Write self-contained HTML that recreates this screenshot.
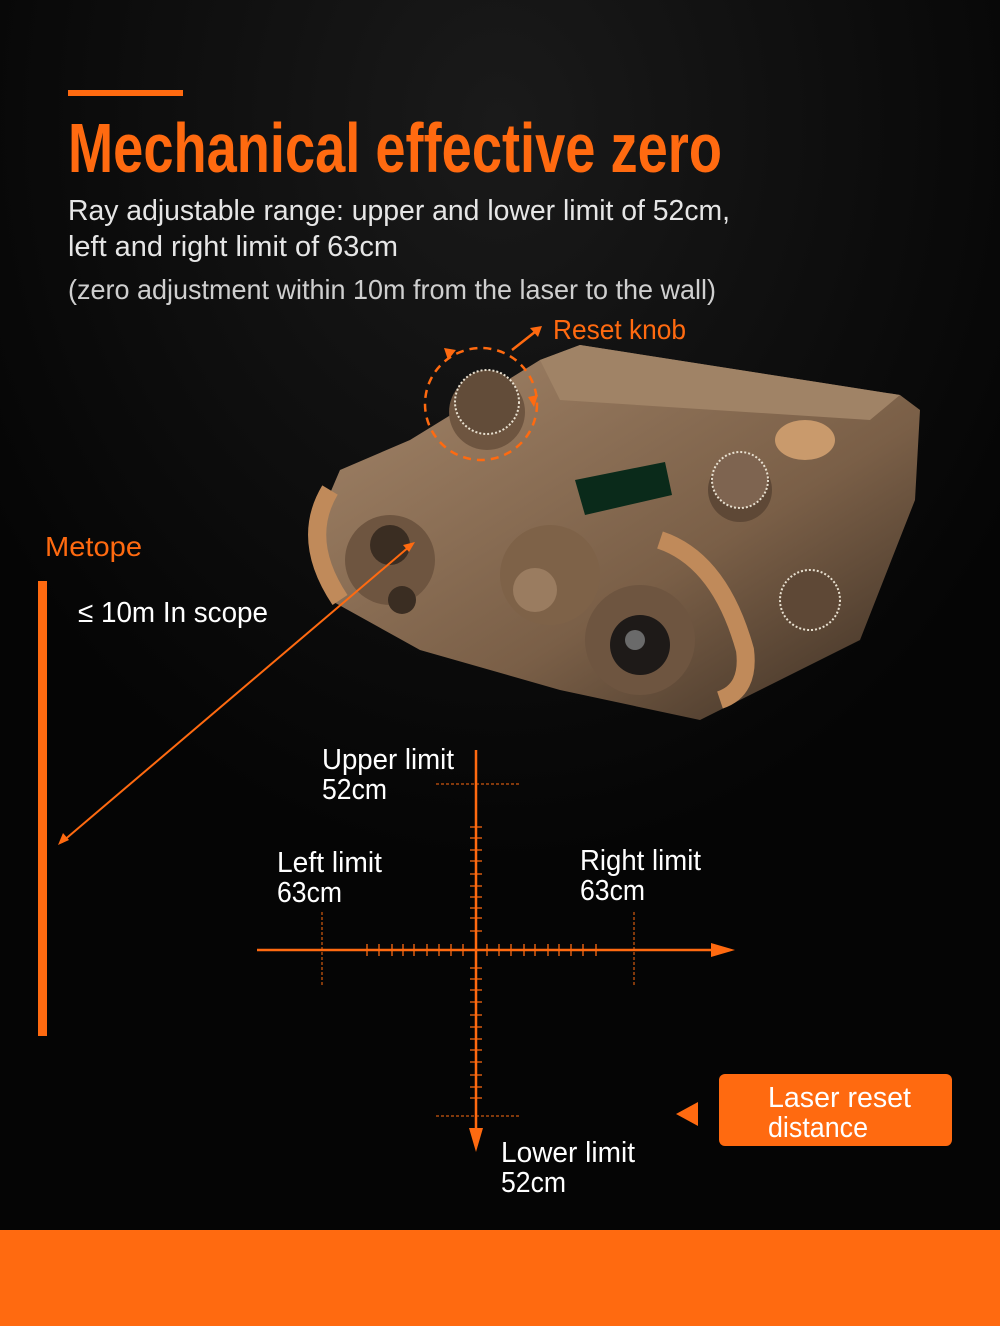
<!DOCTYPE html>
<html><head><meta charset="utf-8"><style>
html,body{margin:0;padding:0;background:#050505;}
body{width:1000px;height:1326px;overflow:hidden;position:relative;}
svg{position:absolute;left:0;top:0;}
</style></head><body>
<svg width="1000" height="1326" viewBox="0 0 1000 1326" font-family="'Liberation Sans Narrow','Liberation Sans',sans-serif">
<defs>
<radialGradient id="bg" cx="0.5" cy="0.1" r="0.6"><stop offset="0" stop-color="#1a1a1a"/><stop offset="1" stop-color="#050505"/></radialGradient>
<linearGradient id="tan" x1="0" y1="0" x2="1" y2="1"><stop offset="0" stop-color="#a4866a"/><stop offset="0.6" stop-color="#7a5f47"/><stop offset="1" stop-color="#3a2d22"/></linearGradient>
</defs>
<rect width="1000" height="1230" fill="url(#bg)"/>
<rect x="0" y="1230" width="1000" height="96" fill="#ff6a10"/>
<rect x="68" y="90" width="115" height="6" fill="#ff6a10"/>
<text x="68" y="172" fill="#ff6a10" font-size="70" font-weight="bold" textLength="654" lengthAdjust="spacingAndGlyphs">Mechanical effective zero</text>
<text x="68" y="220" fill="#e6e6e6" font-size="29" textLength="662" lengthAdjust="spacingAndGlyphs">Ray adjustable range: upper and lower limit of 52cm,</text>
<text x="68" y="256" fill="#e6e6e6" font-size="29" textLength="330" lengthAdjust="spacingAndGlyphs">left and right limit of 63cm</text>
<text x="68" y="299" fill="#cfcfcf" font-size="28" textLength="648" lengthAdjust="spacingAndGlyphs">(zero adjustment within 10m from the laser to the wall)</text>
<!-- device -->
<g>
<polygon points="410,440 540,360 580,345 900,395 920,410 915,500 860,640 760,690 700,720 560,690 420,650 330,600 310,540 340,470" fill="url(#tan)"/>
<polygon points="540,360 580,345 900,395 870,420 560,400" fill="#a08366"/>
<circle cx="390" cy="560" r="45" fill="#6e5540"/><circle cx="390" cy="545" r="20" fill="#3a2d22"/><circle cx="402" cy="600" r="14" fill="#3a2d22"/>
<circle cx="550" cy="575" r="50" fill="#7e6248"/><circle cx="535" cy="590" r="22" fill="#9a7c60"/>
<circle cx="640" cy="640" r="55" fill="#6e5540"/><circle cx="640" cy="645" r="30" fill="#1e1a18"/><circle cx="635" cy="640" r="10" fill="#6a6a6a"/>
<circle cx="740" cy="490" r="32" fill="#5e4836"/><circle cx="740" cy="480" r="28" fill="#7e6450" stroke="#e8e0d0" stroke-width="2" stroke-dasharray="2,2"/>
<circle cx="487" cy="412" r="38" fill="#6e5540"/><circle cx="487" cy="402" r="32" fill="#624c39" stroke="#e8e0d0" stroke-width="2" stroke-dasharray="2,2"/>
<circle cx="810" cy="600" r="30" fill="#5e4836" stroke="#e8e0d0" stroke-width="2" stroke-dasharray="2,2"/>
<ellipse cx="805" cy="440" rx="30" ry="20" fill="#c99a6c"/>
<polygon points="575,480 665,462 672,495 585,515" fill="#0a2a1a"/>
<path d="M330,490 Q300,540 340,600" stroke="#c08a5a" stroke-width="18" fill="none"/>
<path d="M660,540 Q720,560 745,650 Q750,690 720,700" stroke="#c08a5a" stroke-width="18" fill="none"/>
</g>
<!-- reset knob -->
<circle cx="481" cy="404" r="56" fill="none" stroke="#ff6a10" stroke-width="2.5" stroke-dasharray="8,6"/>
<path d="M448,360 l-4,-12 l12,2 z" fill="#ff6a10"/>
<path d="M538,395 l-4,12 l-6,-10 z" fill="#ff6a10"/>
<line x1="512" y1="350" x2="540" y2="328" stroke="#ff6a10" stroke-width="2.5"/>
<path d="M542,326 l-12,2 l8,9 z" fill="#ff6a10"/>
<text x="553" y="339" fill="#ff6a10" font-size="28" textLength="133" lengthAdjust="spacingAndGlyphs">Reset knob</text>
<!-- metope -->
<text x="45" y="556" fill="#ff6a10" font-size="28" textLength="97" lengthAdjust="spacingAndGlyphs">Metope</text>
<rect x="38" y="581" width="9" height="455" fill="#ff6a10"/>
<text x="78" y="622" fill="#ffffff" font-size="29" textLength="190" lengthAdjust="spacingAndGlyphs">≤ 10m In scope</text>
<line x1="410" y1="546" x2="62" y2="842" stroke="#ff6a10" stroke-width="2"/>
<path d="M415,542 l-12,3 l6,7 z" fill="#ff6a10"/>
<path d="M58,845 l5,-12 l6,7 z" fill="#ff6a10"/>
<!-- axes -->
<g stroke="#ff6a10" stroke-width="2.5">
<line x1="257" y1="950" x2="715" y2="950"/>
<line x1="476" y1="750" x2="476" y2="1132"/>
</g>
<path d="M735,950 l-24,-7 v14 z" fill="#ff6a10"/>
<path d="M476,1152 l-7,-24 h14 z" fill="#ff6a10"/>
<g stroke="#ff6a10" stroke-width="1.3">
<path d="M367,944v12M379,944v12M392,944v12M403,944v12M414,944v12M427,944v12M439,944v12M451,944v12M463,944v12M487,944v12M499,944v12M511,944v12M524,944v12M535,944v12M548,944v12M559,944v12M571,944v12M583,944v12M596,944v12"/>
<path d="M470,827h12M470,838h12M470,850h12M470,861h12M470,874h12M470,886h12M470,897h12M470,908h12M470,918h12M470,931h12M470,968h12M470,979h12M470,990h12M470,1002h12M470,1015h12M470,1027h12M470,1039h12M470,1050h12M470,1062h12M470,1075h12M470,1087h12M470,1098h12"/>
</g>
<g stroke="#ff6a10" stroke-width="1" stroke-dasharray="3,2">
<line x1="436" y1="784" x2="520" y2="784"/>
<line x1="436" y1="1116" x2="520" y2="1116"/>
<line x1="322" y1="912" x2="322" y2="987"/>
<line x1="634" y1="912" x2="634" y2="987"/>
</g>
<g fill="#ffffff" font-size="29">
<text x="322" y="769" textLength="132" lengthAdjust="spacingAndGlyphs">Upper limit</text>
<text x="322" y="799" textLength="65" lengthAdjust="spacingAndGlyphs">52cm</text>
<text x="277" y="872" textLength="105" lengthAdjust="spacingAndGlyphs">Left limit</text>
<text x="277" y="902" textLength="65" lengthAdjust="spacingAndGlyphs">63cm</text>
<text x="580" y="870" textLength="121" lengthAdjust="spacingAndGlyphs">Right limit</text>
<text x="580" y="900" textLength="65" lengthAdjust="spacingAndGlyphs">63cm</text>
<text x="501" y="1162" textLength="134" lengthAdjust="spacingAndGlyphs">Lower limit</text>
<text x="501" y="1192" textLength="65" lengthAdjust="spacingAndGlyphs">52cm</text>
</g>
<path d="M676,1114 l22,-12 v24 z" fill="#ff6a10"/>
<rect x="719" y="1074" width="233" height="72" rx="6" fill="#ff6a10"/>
<text x="768" y="1107" fill="#ffffff" font-size="29" textLength="143" lengthAdjust="spacingAndGlyphs">Laser reset</text>
<text x="768" y="1137" fill="#ffffff" font-size="29" textLength="100" lengthAdjust="spacingAndGlyphs">distance</text>
</svg>
</body></html>
